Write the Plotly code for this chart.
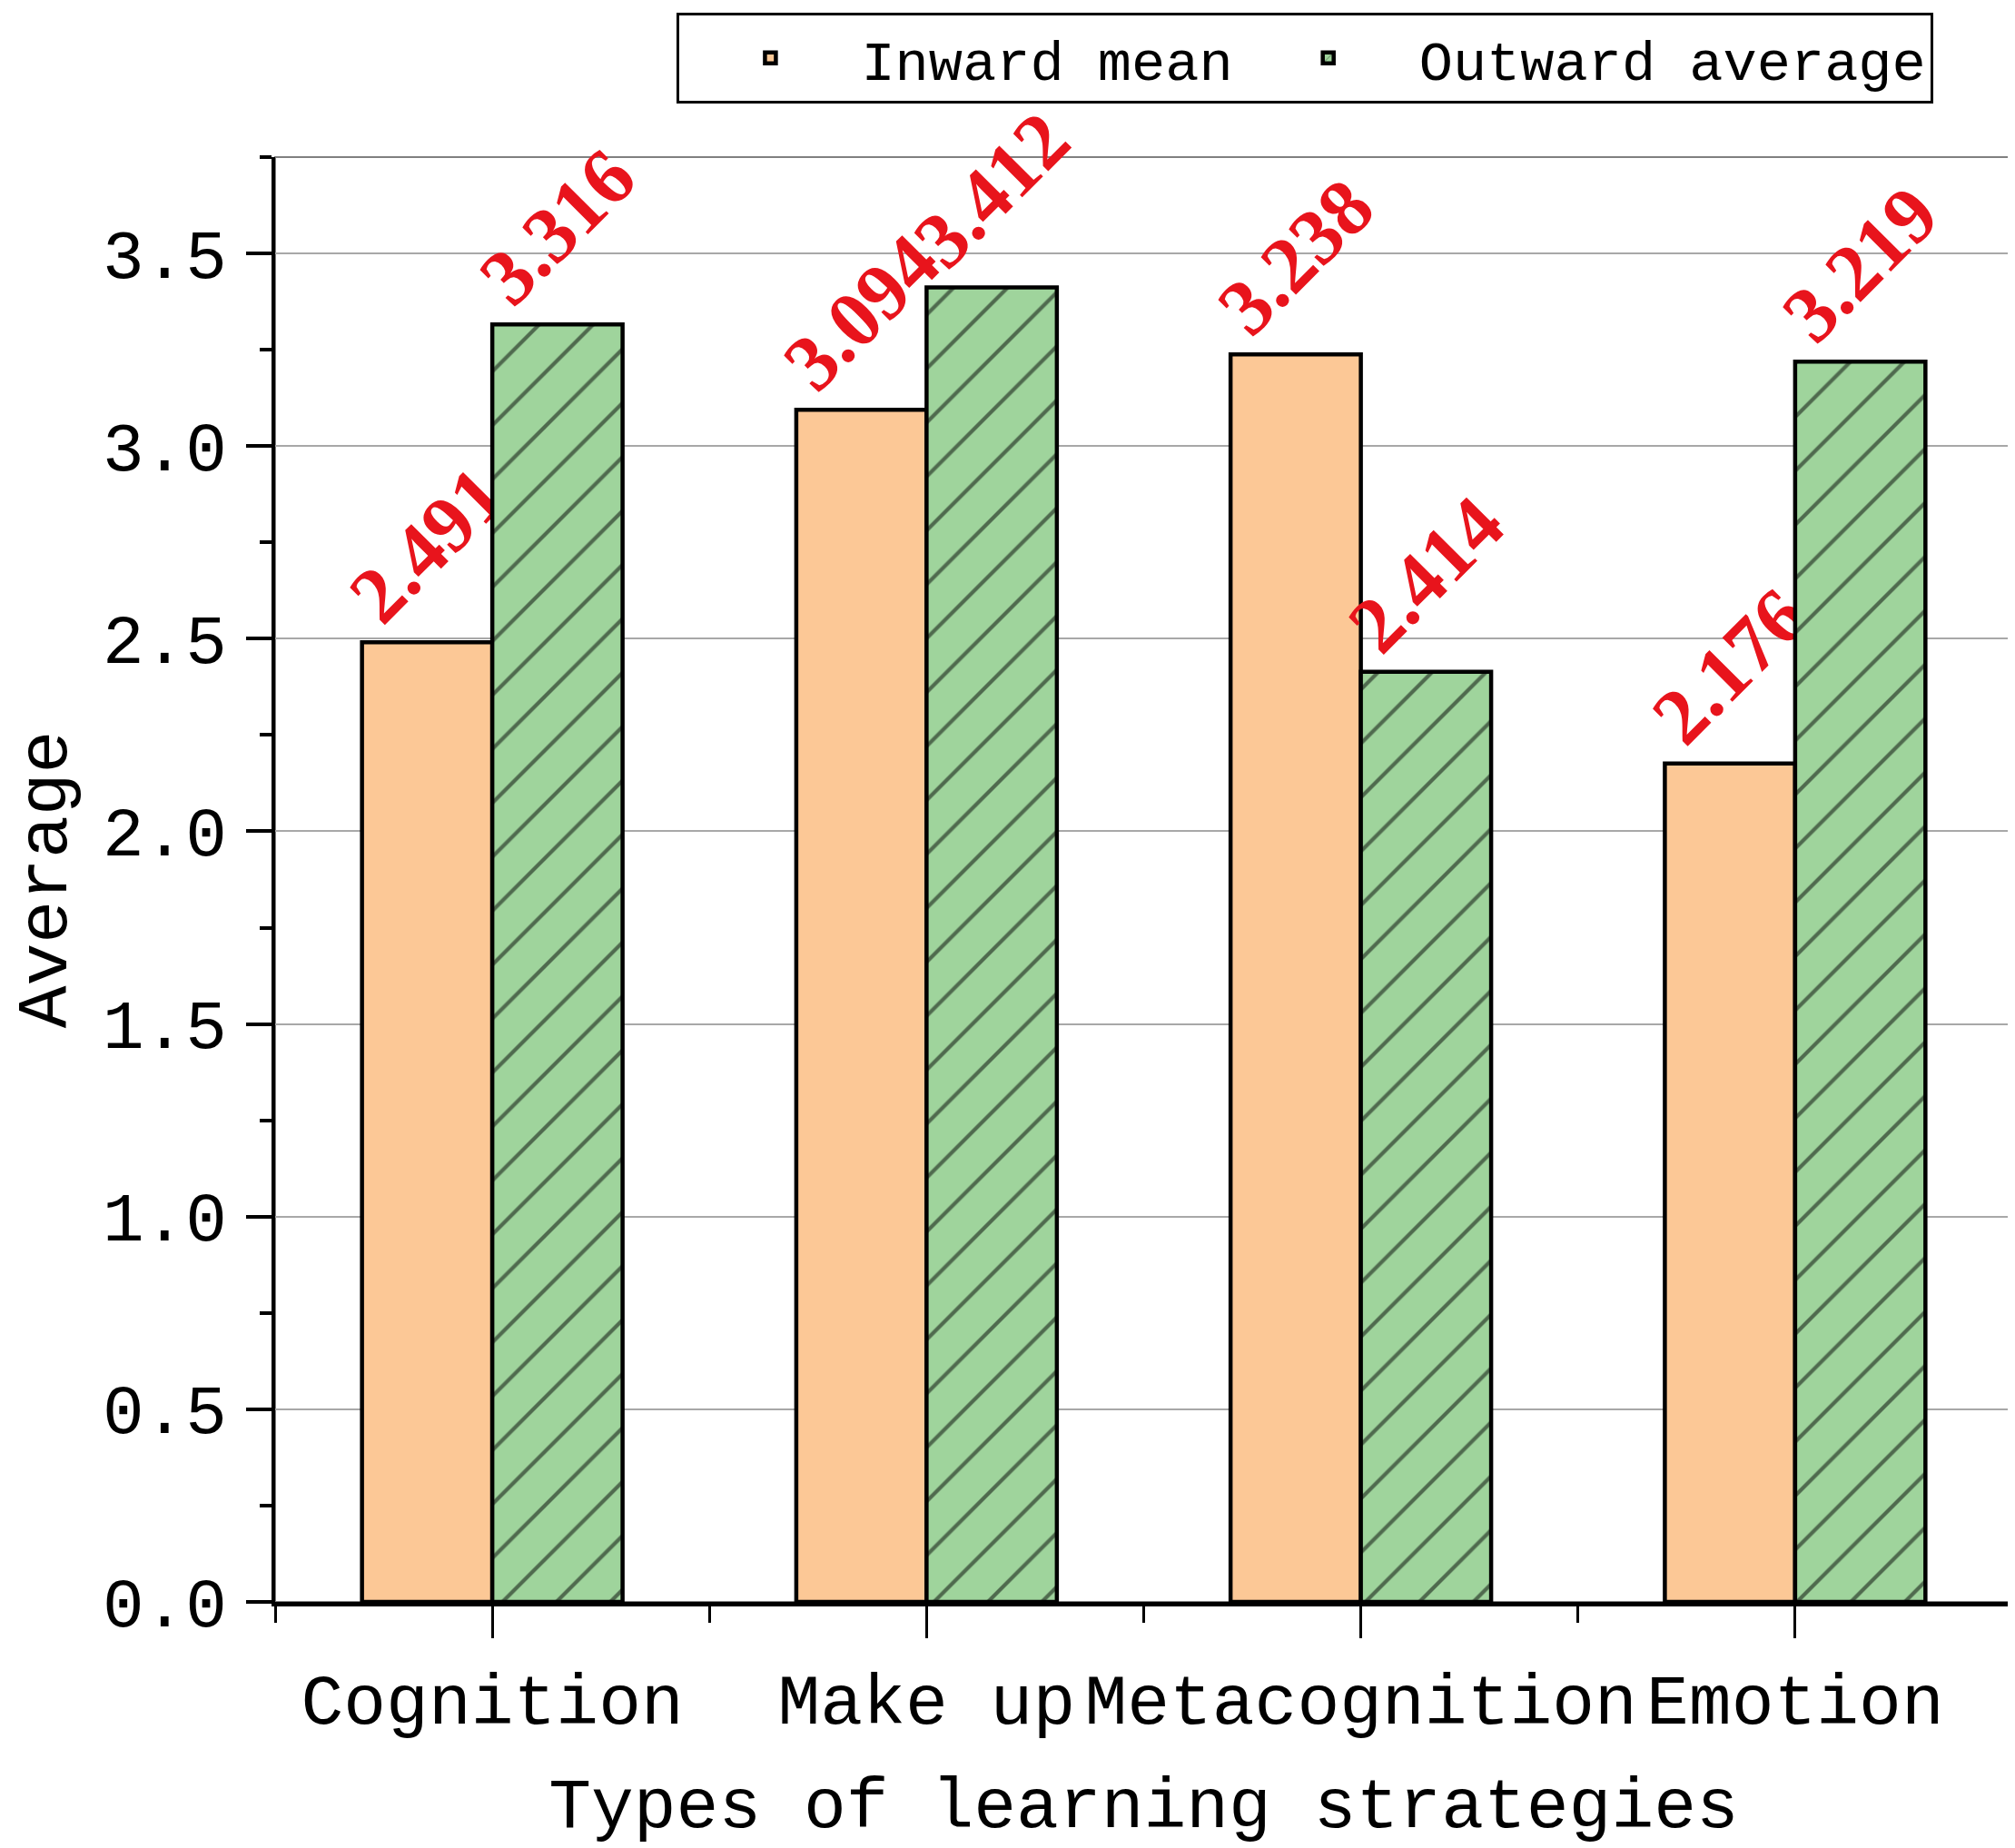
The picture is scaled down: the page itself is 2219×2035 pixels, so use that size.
import numpy as np
import plotly.graph_objects as go

categories = ["Cognition", "Make up", "Metacognition", "Emotion"]
inward_mean = [2.491, 3.094, 3.238, 2.176]
outward_average = [3.316, 3.412, 2.414, 3.219]
series_names = ["Inward mean", "Outward average"]

x_pos = np.arange(len(categories))

mono = "Liberation Mono"
label_font = dict(family="Liberation Serif", size=88, color="#E8141C", weight="bold")

fig = go.Figure()
fig.add_trace(go.Bar(
    x=x_pos, y=inward_mean, name=series_names[0],
    marker=dict(color="#FCC896", line=dict(color="black", width=4.5)),
    texttemplate="%{y:.3f}", textposition="outside", textangle=-45,
    constraintext="none", cliponaxis=False, textfont=label_font,
))
fig.add_trace(go.Bar(
    x=x_pos, y=outward_average, name=series_names[1],
    marker=dict(color="#9FD49C", line=dict(color="black", width=4.5),
                pattern=dict(shape="/", size=42, solidity=0.1,
                             fgcolor="black", bgcolor="#9FD49C")),
    texttemplate="%{y:.3f}", textposition="outside", textangle=-45,
    constraintext="none", cliponaxis=False, textfont=label_font,
))

# grey frame on top / right
fig.add_shape(type="rect", xref="paper", yref="paper", x0=0, x1=1, y0=0, y1=1,
              line=dict(color="#808080", width=2), layer="below")

fig.update_layout(
    width=2211, height=2027,
    margin=dict(l=295, r=3, t=165, b=271),
    paper_bgcolor="white", plot_bgcolor="white",
    barmode="group", bargap=0.4, bargroupgap=0,
    font=dict(family=mono, color="black"),
    legend=dict(orientation="h", x=0.593, xanchor="center", y=1.1, yanchor="top",
                bordercolor="black", borderwidth=3, font=dict(size=62, family=mono),
                bgcolor="white", itemwidth=190),
)
fig.update_xaxes(
    range=[-0.5, 3.5], tickmode="array", tickvals=x_pos, ticktext=categories,
    tickangle=0, tickfont=dict(size=78, family=mono),
    showline=True, linecolor="black", linewidth=5,
    ticks="outside", ticklen=35, tickwidth=3, tickcolor="black",
    minor=dict(tickmode="array", tickvals=[-0.5, 0.5, 1.5, 2.5, 3.5],
               ticks="outside", ticklen=18, tickwidth=3, tickcolor="black"),
    showgrid=False, zeroline=False,
    title=dict(text="Types of learning strategies", font=dict(size=78, family=mono), standoff=42),
)
fig.update_yaxes(
    range=[0, 3.75], dtick=0.5, tickformat=".1f",
    tickfont=dict(size=76, family=mono), ticklabelstandoff=6,
    showline=True, linecolor="black", linewidth=4,
    ticks="outside", ticklen=28, tickwidth=4, tickcolor="black",
    minor=dict(dtick=0.25, ticks="outside", ticklen=13, tickwidth=4, tickcolor="black", showgrid=False),
    showgrid=True, gridcolor="#A8A8A8", gridwidth=2, zeroline=False,
    title=dict(text="Average", font=dict(size=78, family=mono), standoff=20),
)

fig.write_html("out.html")
